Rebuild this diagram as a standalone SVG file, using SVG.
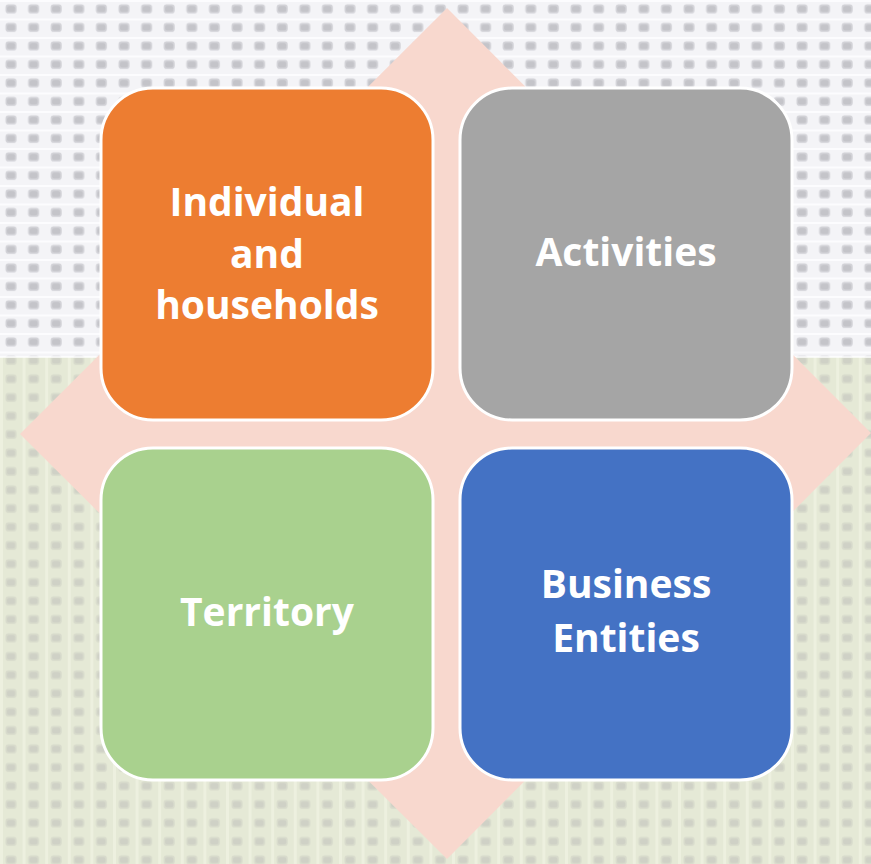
<svg xmlns="http://www.w3.org/2000/svg" width="871" height="864" viewBox="0 0 871 864">
  <defs>
    <pattern id="weaveTop" x="0" y="0" width="22.6" height="18.5" patternUnits="userSpaceOnUse">
      <rect width="22.6" height="18.5" fill="#f4f4f7"/>
      <rect x="5.5" y="4.5" width="11" height="9" rx="3" fill="#d2d2d7"/>
      <rect x="7" y="6" width="8" height="6" rx="2" fill="#c4c4c9"/>
      <rect x="0" y="0" width="22.6" height="2" fill="#fcfcfe"/>
    </pattern>
    <pattern id="weaveBot" x="0" y="0" width="22.6" height="18.5" patternUnits="userSpaceOnUse">
      <rect width="22.6" height="18.5" fill="#e5e9d6"/>
      <rect x="5.5" y="4.5" width="11" height="9" rx="3" fill="#d8dbcc"/>
      <rect x="7" y="6" width="8" height="6" rx="2" fill="#cfd1c6"/>
      <rect x="0" y="0" width="3" height="18.5" fill="#edf0df"/>
    </pattern>
    <style>
      .box { stroke: #ffffff; stroke-width: 3; }
      .lbl { font-family: "Open Sans", "DejaVu Sans", sans-serif; font-weight: 700; font-size: 39px; fill: #ffffff; text-anchor: middle; }
    </style>
  </defs>
  <rect x="0" y="0" width="871" height="357" fill="url(#weaveTop)"/>
  <rect x="0" y="357" width="871" height="507" fill="url(#weaveBot)"/>
  <rect x="0" y="356" width="871" height="2" fill="#ffffff" opacity="0.7"/>
  <polygon id="diamond" points="447,8 871,433 447,859 20,434" fill="#f8d8ce"/>
  <g id="connectors"/>
  <g id="node-individual">
    <rect class="box" x="101" y="88" width="332" height="332" rx="52" fill="#ed7d31"/>
    <text class="lbl" x="267" y="216">Individual</text>
    <text class="lbl" x="267" y="268">and</text>
    <text class="lbl" x="267" y="319">households</text>
  </g>
  <g id="node-activities">
    <rect class="box" x="460" y="88" width="332" height="332" rx="52" fill="#a5a5a5"/>
    <text class="lbl" x="626" y="266">Activities</text>
  </g>
  <g id="node-territory">
    <rect class="box" x="101" y="448" width="332" height="332" rx="52" fill="#a9d18e"/>
    <text class="lbl" x="267" y="626">Territory</text>
  </g>
  <g id="node-business">
    <rect class="box" x="460" y="448" width="332" height="332" rx="52" fill="#4472c4"/>
    <text class="lbl" x="626" y="598">Business</text>
    <text class="lbl" x="626" y="652">Entities</text>
  </g>
</svg>
